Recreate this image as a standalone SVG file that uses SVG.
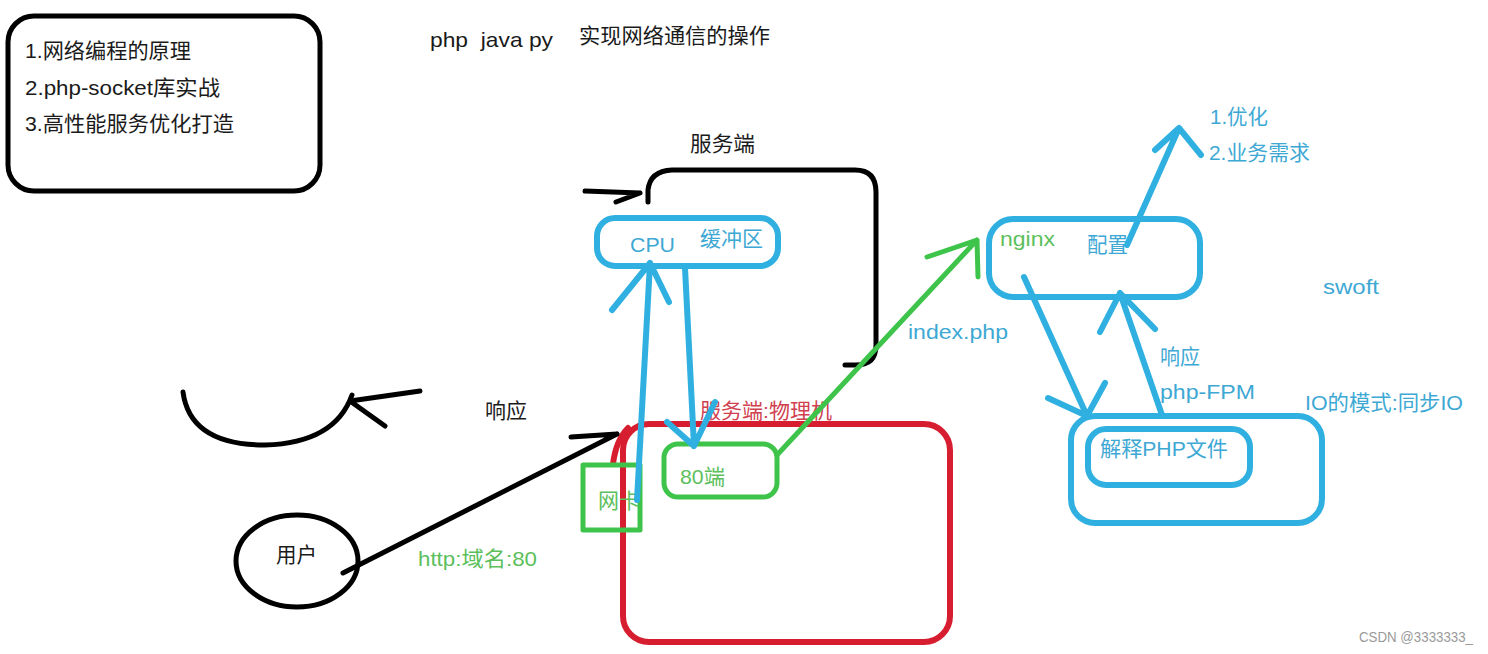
<svg xmlns="http://www.w3.org/2000/svg" width="1488" height="654" viewBox="0 0 1488 654">
<style>
text{font-family:"Liberation Sans","Noto Sans CJK SC",sans-serif;font-size:21px}
.k{fill:#1a1a1a}.b{fill:#3ea8d4}.g{fill:#5cbf5c}.r{fill:#d0404f}
.sk{fill:none;stroke:#000;stroke-width:5;stroke-linecap:round;stroke-linejoin:round}
.sb{fill:none;stroke:#2fb0e0;stroke-width:6;stroke-linecap:round;stroke-linejoin:round}
.sg{fill:none;stroke:#3ec44a;stroke-width:5;stroke-linecap:round;stroke-linejoin:round}
.sr{fill:none;stroke:#d61e30;stroke-width:6;stroke-linecap:round;stroke-linejoin:round}
</style>
<rect width="1488" height="654" fill="#fff"/>
<g id="outline">
<rect class="sk" x="8" y="16" width="312" height="175" rx="26"/>
<text class="k" x="25" y="58" textLength="166" lengthAdjust="spacingAndGlyphs">1.网络编程的原理</text>
<text class="k" x="25" y="95" textLength="195" lengthAdjust="spacingAndGlyphs">2.php-socket库实战</text>
<text class="k" x="25" y="131" textLength="209" lengthAdjust="spacingAndGlyphs">3.高性能服务优化打造</text>
</g>
<g id="title">
<text class="k" x="430" y="47" xml:space="preserve" textLength="123" lengthAdjust="spacingAndGlyphs">php  java py</text>
<text class="k" x="579" y="43" textLength="191" lengthAdjust="spacingAndGlyphs">实现网络通信的操作</text>
</g>
<g id="server">
<text class="k" x="690" y="151" textLength="65" lengthAdjust="spacingAndGlyphs">服务端</text>
<path class="sk" d="M648 202 L648 190 Q650 171 672 170 L855 170 Q876 170 876 192 L876 345 Q876 365 856 365 L845 365"/>
</g>
<g id="physical">
<text class="r" x="700" y="418" textLength="132" lengthAdjust="spacingAndGlyphs">服务端:物理机</text>
<rect class="sr" x="623" y="424" width="327" height="218" rx="26"/>
<path class="sr" d="M613 464 Q616 440 628 428"/>
</g>
<g id="cpu">
<rect class="sb" x="597" y="218" width="181" height="48" rx="18"/>
<text class="b" x="630" y="252" textLength="45" lengthAdjust="spacingAndGlyphs">CPU</text>
<text class="b" x="700" y="246" textLength="63" lengthAdjust="spacingAndGlyphs">缓冲区</text>
</g>
<g id="nic">
<rect class="sg" x="583" y="465" width="57" height="65"/>
<text class="g" x="598" y="508" textLength="42" lengthAdjust="spacingAndGlyphs">网卡</text>
</g>
<g id="port80">
<rect class="sg" x="664" y="444" width="113" height="53" rx="14"/>
<text class="g" x="680" y="484" textLength="45" lengthAdjust="spacingAndGlyphs">80端</text>
</g>
<g id="nginx">
<rect class="sb" x="989" y="219" width="211" height="78" rx="24"/>
<text class="g" x="1000" y="246" textLength="55" lengthAdjust="spacingAndGlyphs">nginx</text>
<text class="b" x="1087" y="252" textLength="41" lengthAdjust="spacingAndGlyphs">配置</text>
</g>
<g id="fpm">
<rect class="sb" x="1071" y="416" width="251" height="107" rx="24"/>
<rect class="sb" x="1088" y="429" width="162" height="56" rx="18"/>
<text class="b" x="1100" y="456" textLength="128" lengthAdjust="spacingAndGlyphs">解释PHP文件</text>
</g>
<g id="user">
<ellipse class="sk" cx="297" cy="561" rx="61" ry="46"/>
<text class="k" x="276" y="562" textLength="41" lengthAdjust="spacingAndGlyphs">用户</text>
</g>
<g id="labels">
<text class="b" x="908" y="339" textLength="100" lengthAdjust="spacingAndGlyphs">index.php</text>
<text class="b" x="1210" y="124" textLength="58" lengthAdjust="spacingAndGlyphs">1.优化</text>
<text class="b" x="1209" y="160" textLength="101" lengthAdjust="spacingAndGlyphs">2.业务需求</text>
<text class="b" x="1323" y="294" textLength="56" lengthAdjust="spacingAndGlyphs">swoft</text>
<text class="b" x="1160" y="364" textLength="40" lengthAdjust="spacingAndGlyphs">响应</text>
<text class="b" x="1160" y="399" textLength="95" lengthAdjust="spacingAndGlyphs">php-FPM</text>
<text class="b" x="1305" y="410" textLength="158" lengthAdjust="spacingAndGlyphs">IO的模式:同步IO</text>
<text class="k" x="485" y="418" textLength="42" lengthAdjust="spacingAndGlyphs">响应</text>
<text class="g" x="418" y="566" textLength="119" lengthAdjust="spacingAndGlyphs">http:域名:80</text>
<text x="1359" y="642" style="font-size:14px;fill:#9a9a9a" textLength="114" lengthAdjust="spacingAndGlyphs">CSDN @3333333_</text>
</g>
<g id="connectors">
<path class="sk" d="M585 191 L640 193 M616 202 L640 193"/>
<path class="sk" d="M183 392 Q190 445 265 445 Q335 443 352 395 M350 401 L420 391 M350 401 L385 426"/>
<path class="sk" d="M343 573 L617 434 M571 437 L617 434"/>
<path class="sb" d="M637 500 L650 263 M612 310 L650 263 L669 302"/>
<path class="sb" d="M685 268 L694 446 M667 422 L694 446 L715 402"/>
<path class="sg" d="M777 455 L977 240 M927 257 L977 240 L978 277"/>
<path class="sb" d="M1127 245 L1179 128 M1155 150 L1179 128 L1201 155"/>
<path class="sb" d="M1024 277 L1087 416 M1048 398 L1087 416 L1105 383"/>
<path class="sb" d="M1162 415 L1120 293 M1100 332 L1120 293 L1155 329"/>
</g>
</svg>
